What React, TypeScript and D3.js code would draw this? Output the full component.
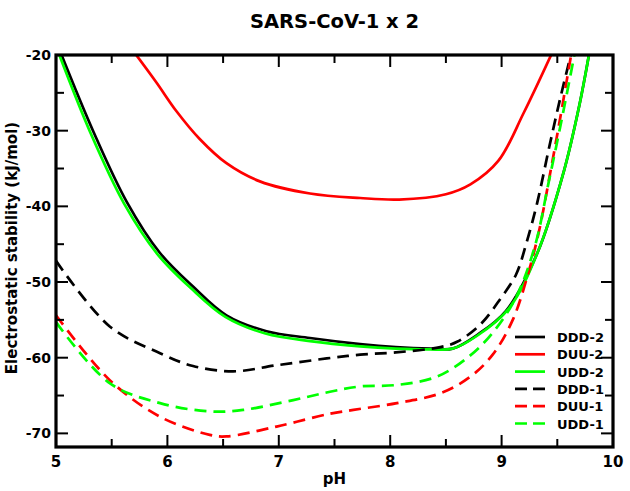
import React from 'react';
import * as d3 from 'd3';

// pH / stability samples
const ddd2Ph = [5.05, 5.335, 5.635, 5.93, 6.23, 6.53, 6.89, 7.28, 7.73, 8.05, 8.36, 8.56, 8.78, 9.04, 9.32, 9.56, 9.7, 9.79];
const ddd2Val = [-20, -30.1, -39.4, -46.1, -50.6, -54.4, -56.5, -57.4, -58.2, -58.6, -58.8, -58.8, -57.0, -53.8, -46.2, -35.3, -26.5, -19.5];

const duu2Ph = [5.7, 5.9, 6.08, 6.29, 6.53, 6.83, 7.28, 7.73, 8.08, 8.5, 8.72, 8.97, 9.2, 9.46];
const duu2Val = [-19.6, -23.6, -27.4, -31.1, -34.3, -36.7, -38.3, -38.9, -39.1, -38.4, -37.1, -34.0, -27.6, -19.5];

const udd2Ph = [5.03, 5.31, 5.61, 5.91, 6.21, 6.52, 6.88, 7.28, 7.73, 8.05, 8.36, 8.56, 8.78, 9.07, 9.32, 9.56, 9.7, 9.79];
const udd2Val = [-20, -30.3, -39.6, -46.3, -50.8, -54.6, -56.8, -57.8, -58.5, -58.8, -58.9, -58.8, -57.1, -53.4, -46.2, -35.3, -26.5, -19.5];

const ddd1Ph = [5.0, 5.485, 5.934, 6.23, 6.59, 6.98, 7.43, 7.73, 8.05, 8.45, 8.6, 8.81, 8.99, 9.13, 9.22, 9.32, 9.43, 9.53, 9.63];
const ddd1Val = [-47.2, -55.9, -59.4, -61.1, -61.8, -61.0, -60.1, -59.6, -59.3, -58.6, -57.9, -55.6, -52.2, -49.0, -45.0, -39.5, -32.0, -25.5, -19.5];

const duu1Ph = [5.0, 5.485, 5.934, 6.38, 6.53, 6.98, 7.46, 7.67, 8.06, 8.45, 8.72, 8.92, 9.1, 9.24, 9.34, 9.44, 9.53, 9.63];
const duu1Val = [-54.4, -63.0, -67.8, -70.2, -70.4, -69.1, -67.4, -66.9, -66.0, -64.7, -62.5, -59.6, -55.0, -48.8, -43.0, -35.3, -28.0, -19.5];

const udd1Ph = [5.0, 5.485, 5.934, 6.38, 6.68, 7.13, 7.46, 7.73, 8.06, 8.42, 8.71, 8.92, 9.13, 9.3, 9.42, 9.54, 9.66];
const udd1Val = [-55.3, -63.4, -66.0, -67.1, -66.9, -65.6, -64.5, -63.8, -63.6, -62.5, -59.8, -56.7, -52.0, -45.2, -37.0, -28.5, -19.5];

const seriesNames = ['DDD-2', 'DUU-2', 'UDD-2', 'DDD-1', 'DUU-1', 'UDD-1'];
const seriesColors = ['#000000', '#ff0000', '#00ff00', '#000000', '#ff0000', '#00ff00'];
const seriesDashed = [false, false, false, true, true, true];
const seriesPh = [ddd2Ph, duu2Ph, udd2Ph, ddd1Ph, duu1Ph, udd1Ph];
const seriesVal = [ddd2Val, duu2Val, udd2Val, ddd1Val, duu1Val, udd1Val];

const xTicks = [5, 6, 7, 8, 9, 10];
const yTicks = [-70, -60, -50, -40, -30, -20];

const W = 630;
const H = 491;
const m = { left: 56, right: 17, top: 55, bottom: 44 };
const font = '"DejaVu Sans", Verdana, sans-serif';

export default function App() {
  const x = d3.scaleLinear().domain([5, 10]).range([m.left, W - m.right]);
  const y = d3.scaleLinear().domain([-71.8, -20]).range([H - m.bottom, m.top]);

  const line = d3.line<[number, number]>()
    .x(d => x(d[0]))
    .y(d => y(d[1]))
    .curve(d3.curveCatmullRom.alpha(0.5));

  const minorX = d3.range(5.5, 10, 1);
  const minorY = d3.range(-65, -20, 10);
  const x0 = m.left, x1 = W - m.right, y0 = m.top, y1 = H - m.bottom;
  const major = 12, minor = 8;

  // legend placement
  const legX = 515, legY = 337, legStep = 17.3;

  return (
    <div style={{ position: 'fixed', left: 0, top: 0 }}>
      <svg width={W} height={H} style={{ display: 'block', background: '#fff' }} fontFamily={font}>
        <defs>
          <clipPath id="plot">
            <rect x={x0} y={y0} width={x1 - x0} height={y1 - y0} />
          </clipPath>
        </defs>
        <text x={(x0 + x1) / 2} y={28} textAnchor="middle" fontSize={19.5} fontWeight="bold">SARS-CoV-1 x 2</text>

        <g clipPath="url(#plot)">
          {seriesNames.map((name, i) => (
            <path
              key={name}
              d={line(seriesPh[i].map((p, j) => [p, seriesVal[i][j]] as [number, number])) || ''}
              fill="none"
              stroke={seriesColors[i]}
              strokeWidth={2.7}
              strokeDasharray={seriesDashed[i] ? '12,7' : undefined}
            />
          ))}
        </g>

        {/* ticks on all sides, pointing in */}
        <g stroke="#000" strokeWidth={2}>
          {xTicks.map(t => (
            <g key={'xt' + t}>
              <line x1={x(t)} x2={x(t)} y1={y1} y2={y1 - major} />
              <line x1={x(t)} x2={x(t)} y1={y0} y2={y0 + major} />
            </g>
          ))}
          {minorX.map(t => (
            <g key={'xm' + t}>
              <line x1={x(t)} x2={x(t)} y1={y1} y2={y1 - minor} />
              <line x1={x(t)} x2={x(t)} y1={y0} y2={y0 + minor} />
            </g>
          ))}
          {yTicks.map(t => (
            <g key={'yt' + t}>
              <line x1={x0} x2={x0 + major} y1={y(t)} y2={y(t)} />
              <line x1={x1} x2={x1 - major} y1={y(t)} y2={y(t)} />
            </g>
          ))}
          {minorY.map(t => (
            <g key={'ym' + t}>
              <line x1={x0} x2={x0 + minor} y1={y(t)} y2={y(t)} />
              <line x1={x1} x2={x1 - minor} y1={y(t)} y2={y(t)} />
            </g>
          ))}
        </g>
        <rect x={x0} y={y0} width={x1 - x0} height={y1 - y0} fill="none" stroke="#000" strokeWidth={3.2} />

        {xTicks.map(t => (
          <text key={'xl' + t} x={x(t)} y={467} textAnchor="middle" fontSize={15} fontWeight="bold">{t}</text>
        ))}
        {yTicks.map(t => (
          <text key={'yl' + t} x={x0 - 5} y={y(t) + 5} textAnchor="end" fontSize={14} fontWeight="bold">{t}</text>
        ))}
        <text x={(x0 + x1) / 2} y={484} textAnchor="middle" fontSize={15} fontWeight="bold">pH</text>
        <text transform={`translate(16.5,${(y0 + y1) / 2 - 3}) rotate(-90)`} textAnchor="middle" fontSize={15} fontWeight="bold">
          Electrostatic stability (kJ/mol)
        </text>

        {seriesNames.map((name, i) => (
          <g key={'leg' + name} transform={`translate(${legX},${legY + i * legStep})`}>
            <line x1={0} x2={30} y1={0} y2={0} stroke={seriesColors[i]} strokeWidth={2.7}
              strokeDasharray={seriesDashed[i] ? '12,6' : undefined} />
            <text x={42} y={5} fontSize={13} fontWeight="bold">{name}</text>
          </g>
        ))}
      </svg>
    </div>
  );
}
